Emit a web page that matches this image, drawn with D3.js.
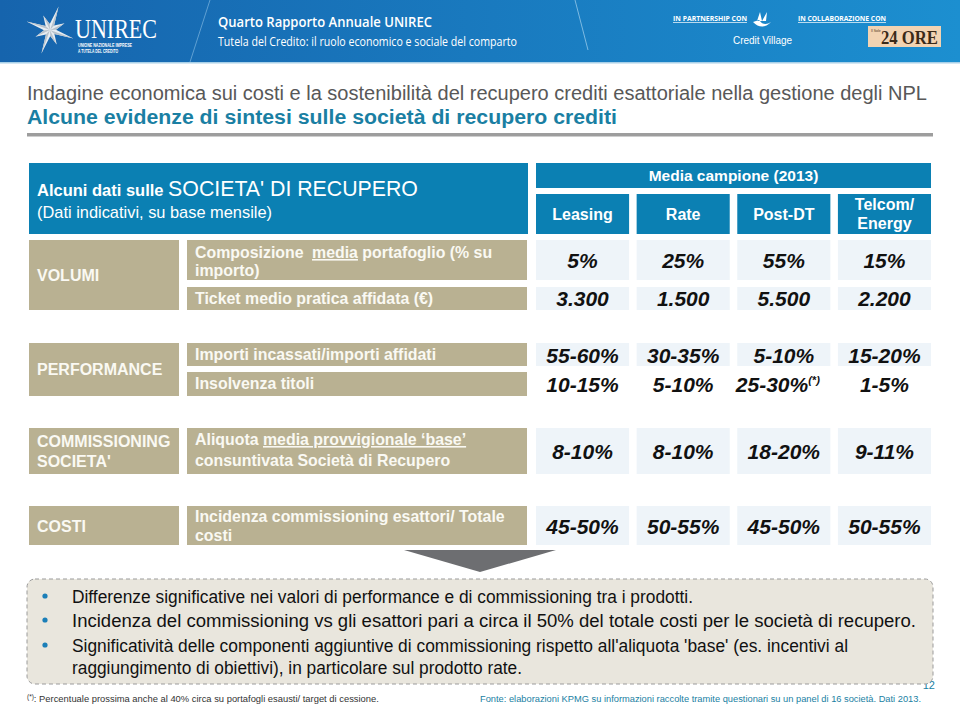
<!DOCTYPE html>
<html><head><meta charset="utf-8">
<script src="https://cdn.jsdelivr.net/npm/d3@7"></script>
<style>body{margin:0;background:#fff}svg{display:block}</style>
</head><body><svg id="c" width="960" height="707"></svg>
<script>
// ---------- DATA ----------
const columns = ["Leasing", "Rate", "Post-DT", "Telcom/ Energy"];
const headerTitle = "Media campione (2013)";
const categories = ["VOLUMI", "PERFORMANCE", "COMMISSIONING SOCIETA'", "COSTI"];
const composizione = ["5%", "25%", "55%", "15%"];
const ticket = ["3.300", "1.500", "5.500", "2.200"];
const incassati = ["55-60%", "30-35%", "5-10%", "15-20%"];
const insolvenza = ["10-15%", "5-10%", "25-30%", "1-5%"];
const insolvenzaNote = ["", "", "(*)", ""];
const aliquota = ["8-10%", "8-10%", "18-20%", "9-11%"];
const incidenza = ["45-50%", "50-55%", "45-50%", "50-55%"];
const bullets = [
  "Differenze significative nei valori di performance e di commissioning tra i prodotti.",
  "Incidenza del commissioning vs gli esattori pari a circa il 50% del totale costi per le società di recupero.",
  "Significatività delle componenti aggiuntive di commissioning rispetto all'aliquota 'base' (es. incentivi al",
  "raggiungimento di obiettivi), in particolare sul prodotto rate."
];

// ---------- SETUP ----------
const svg = d3.select("#c");
const FONT = "'Liberation Sans', Arial, sans-serif";
const BLUE = "#0b80b3", TAN = "#b9b192", CELL = "#eef4f9", TEAL = "#1a7fa3", LBL = "#faf9f3";

// Header banner
const defs = svg.append("defs");
const gr = defs.append("linearGradient").attr("id", "hg");
gr.append("stop").attr("offset", "0%").attr("stop-color", "#1664ad");
gr.append("stop").attr("offset", "100%").attr("stop-color", "#1c8fd0");
svg.append("rect").attr("x", 0).attr("y", 0).attr("width", 960).attr("height", 62).attr("fill", "url(#hg)");
svg.append("rect").attr("x", 0).attr("y", 62).attr("width", 960).attr("height", 1.5).attr("fill", "#a8d0e8");
svg.append("line").attr("x1", 210).attr("y1", 0).attr("x2", 190).attr("y2", 62).attr("stroke", "#7fb6e0").attr("stroke-width", 1).attr("opacity", 0.7);
svg.append("line").attr("x1", 575).attr("y1", 0).attr("x2", 588).attr("y2", 50).attr("stroke", "#a8d4f0").attr("stroke-width", 1).attr("opacity", 0.7);

// Star logo
(function () {
  const cx = 50, cy = 30;
  const pts = [];
  for (let i = 0; i < 16; i++) {
    const a = -Math.PI / 2 + i * Math.PI / 8 + 0.35;
    const r = i % 2 === 1 ? 6 : (i % 4 === 0 ? 25 : 16);
    pts.push([cx + r * Math.cos(a), cy + r * Math.sin(a)]);
  }
  svg.append("polygon").attr("points", pts.map(p => p.join(",")).join(" ")).attr("fill", "#e8edf2");
  for (let i = 0; i < 16; i += 2) {
    const a = -Math.PI / 2 + i * Math.PI / 8 + 0.35;
    const r = i % 4 === 0 ? 25 : 16;
    const a2 = a + Math.PI / 8;
    svg.append("polygon").attr("points", [[cx, cy], [cx + r * Math.cos(a), cy + r * Math.sin(a)], [cx + 6 * Math.cos(a2), cy + 6 * Math.sin(a2)]].map(p => p.join(",")).join(" ")).attr("fill", "#b9c3cc");
  }
})();
svg.append("text").attr("x", 75).attr("y", 38).attr("font-family", "'Liberation Serif', serif").attr("font-size", 27).attr("fill", "#fff").attr("textLength", 82).attr("lengthAdjust", "spacingAndGlyphs").text("UNIREC");
svg.append("text").attr("x", 78).attr("y", 47).attr("font-family", FONT).attr("font-size", 4.6).attr("fill", "#fff").attr("font-weight", "bold").attr("textLength", 54).attr("lengthAdjust", "spacingAndGlyphs").text("UNIONE NAZIONALE IMPRESE");
svg.append("text").attr("x", 78).attr("y", 53).attr("font-family", FONT).attr("font-size", 4.6).attr("fill", "#fff").attr("font-weight", "bold").attr("textLength", 40).attr("lengthAdjust", "spacingAndGlyphs").text("A TUTELA DEL CREDITO");

svg.append("text").attr("x", 218).attr("y", 27).attr("font-family", "'Open Sans', sans-serif").attr("font-weight", 600).attr("font-size", 15).attr("fill", "#fff").attr("textLength", 214).attr("lengthAdjust", "spacingAndGlyphs").text("Quarto Rapporto Annuale UNIREC");
svg.append("text").attr("x", 218).attr("y", 46).attr("font-family", "'Open Sans', sans-serif").attr("font-size", 12.5).attr("fill", "#fff").attr("textLength", 299).attr("lengthAdjust", "spacingAndGlyphs").text("Tutela del Credito: il ruolo economico e sociale del comparto");

// Partner logos
const tiny = (x, y, t, w) => svg.append("text").attr("x", x).attr("y", y).attr("font-family", "'Open Sans', sans-serif").attr("font-weight", 700).attr("font-size", 7).attr("fill", "#fff").attr("textLength", w).attr("lengthAdjust", "spacingAndGlyphs").style("text-decoration", "underline").text(t);
tiny(673, 21, "IN PARTNERSHIP CON", 74);
tiny(798, 21, "IN COLLABORAZIONE CON", 88);
svg.append("path").attr("d", "M753,22 Q762,31 771,22 Q764,27 759,20 Z M757,21 L760,12 L762,21 Z M762,21 L767,12 L766,21 Z").attr("fill", "#fff");
svg.append("text").attr("x", 733).attr("y", 44).attr("font-family", FONT).attr("font-size", 11).attr("fill", "#fff").attr("textLength", 59).attr("lengthAdjust", "spacingAndGlyphs").text("Credit Village");
svg.append("rect").attr("x", 868).attr("y", 26).attr("width", 73).attr("height", 21).attr("fill", "#f2d3b2");
svg.append("text").attr("x", 871).attr("y", 32).attr("font-family", FONT).attr("font-size", 3.5).attr("fill", "#4a3520").text("Il Sole");
svg.append("text").attr("x", 881).attr("y", 44).attr("font-family", "'Liberation Serif', serif").attr("font-weight", "bold").attr("font-size", 19).attr("fill", "#3b2a18").attr("textLength", 57).attr("lengthAdjust", "spacingAndGlyphs").text("24 ORE");

// Titles
svg.append("text").attr("x", 27).attr("y", 100).attr("font-family", FONT).attr("font-size", 19.5).attr("fill", "#585858").attr("textLength", 900).attr("lengthAdjust", "spacingAndGlyphs").text("Indagine economica sui costi e la sostenibilità del recupero crediti esattoriale nella gestione degli NPL");
svg.append("text").attr("x", 27).attr("y", 124).attr("font-family", FONT).attr("font-weight", "bold").attr("font-size", 19.5).attr("fill", TEAL).attr("textLength", 590).attr("lengthAdjust", "spacingAndGlyphs").text("Alcune evidenze di sintesi sulle società di recupero crediti");
svg.append("rect").attr("x", 27).attr("y", 133).attr("width", 906).attr("height", 3.5).attr("fill", "#9d9d9d");

// ---------- TABLE ----------
const x = d3.scaleBand().domain(columns).range([536, 931]).paddingInner(0.075);

// left header
svg.append("rect").attr("x", 29).attr("y", 163).attr("width", 499).attr("height", 71).attr("fill", BLUE);
const lh = svg.append("text").attr("x", 37).attr("y", 196).attr("font-family", FONT).attr("fill", "#fff");
lh.append("tspan").attr("font-weight", "bold").attr("font-size", 16.5).text("Alcuni dati sulle ");
lh.append("tspan").attr("font-size", 21.3).text("SOCIETA' DI RECUPERO");
svg.append("text").attr("x", 37).attr("y", 218).attr("font-family", FONT).attr("font-size", 16.4).attr("fill", "#fff").text("(Dati indicativi, su base mensile)");

// right header
svg.append("rect").attr("x", x.range()[0]).attr("y", 163).attr("width", x.range()[1] - x.range()[0]).attr("height", 25).attr("fill", BLUE);
svg.append("text").attr("x", (x.range()[0] + x.range()[1]) / 2).attr("y", 181).attr("text-anchor", "middle").attr("font-family", FONT).attr("font-weight", "bold").attr("font-size", 15.5).attr("fill", "#fff").text(headerTitle);
const colG = svg.selectAll("g.col").data(columns).join("g").attr("class", "col");
colG.append("rect").attr("x", d => x(d)).attr("y", 194).attr("width", x.bandwidth()).attr("height", 40).attr("fill", BLUE);
colG.each(function (d) {
  const parts = d.split(" ");
  const g = d3.select(this);
  const y0 = parts.length === 1 ? 220 : 210;
  parts.forEach((p, i) => g.append("text").attr("x", x(d) + x.bandwidth() / 2).attr("y", y0 + i * 19).attr("text-anchor", "middle")
    .attr("font-family", FONT).attr("font-weight", "bold").attr("font-size", 16).attr("fill", "#fff").text(p));
});

// groups layout
const groups = [
  { cat: categories[0], y0: 240, y1: 310, catY: [281],
    rows: [
      { y0: 240, y1: 280, label: [["Composizione ", ""], ["media", "u", 4], [" portafoglio (% su", ""]], label2: "importo)", ly: [258, 276], vals: composizione, vy: 268, bg: true },
      { y0: 287, y1: 310, label: [["Ticket medio pratica affidata (€)", ""]], ly: [304], vals: ticket, vy: 306, bg: true }
    ] },
  { cat: categories[1], y0: 343, y1: 396, catY: [375],
    rows: [
      { y0: 343, y1: 366, label: [["Importi incassati/importi affidati", ""]], ly: [360], vals: incassati, vy: 363, bg: true },
      { y0: 372, y1: 396, label: [["Insolvenza titoli", ""]], ly: [389], vals: insolvenza, notes: insolvenzaNote, vy: 392, bg: false }
    ] },
  { cat: categories[2], y0: 428, y1: 474, catY: [447, 467],
    rows: [
      { y0: 428, y1: 474, label: [["Aliquota ", ""], ["media provvigionale ‘base’", "u"]], label2: "consuntivata Società di Recupero", ly: [445, 466], vals: aliquota, vy: 459, bg: true }
    ] },
  { cat: categories[3], y0: 506, y1: 545, catY: [532],
    rows: [
      { y0: 506, y1: 545, label: [["Incidenza commissioning esattori/ Totale", ""]], label2: "costi", ly: [522, 541], vals: incidenza, vy: 534, bg: true }
    ] }
];

groups.forEach(g => {
  svg.append("rect").attr("x", 29).attr("y", g.y0).attr("width", 150).attr("height", g.y1 - g.y0).attr("fill", TAN);
  const catParts = g.catY.length > 1 ? g.cat.split(" ") : [g.cat];
  catParts.forEach((p, i) => svg.append("text").attr("x", 37).attr("y", g.catY[i]).attr("font-family", FONT).attr("font-weight", "bold").attr("font-size", 16).attr("fill", LBL).text(p));
  g.rows.forEach(r => {
    svg.append("rect").attr("x", 187).attr("y", r.y0).attr("width", 340).attr("height", r.y1 - r.y0).attr("fill", TAN);
    const t = svg.append("text").attr("x", 195).attr("y", r.ly[0]).attr("font-family", FONT).attr("font-weight", "bold").attr("font-size", 15.9).attr("fill", LBL);
    r.label.forEach(([s, u, dx]) => {
      const ts = t.append("tspan").text(s);
      if (dx) ts.attr("dx", dx);
      if (u === "u") ts.style("text-decoration", "underline");
    });
    if (r.label2) svg.append("text").attr("x", 195).attr("y", r.ly[1]).attr("font-family", FONT).attr("font-weight", "bold").attr("font-size", 15.9).attr("fill", LBL).text(r.label2);
    if (r.bg) svg.selectAll(null).data(columns).join("rect").attr("x", d => x(d)).attr("y", r.y0).attr("width", x.bandwidth()).attr("height", r.y1 - r.y0).attr("fill", CELL);
    svg.selectAll(null).data(columns).join("text")
      .attr("x", d => x(d) + x.bandwidth() / 2 - (r.notes && r.notes[columns.indexOf(d)] ? 6 : 0))
      .attr("y", r.vy).attr("text-anchor", "middle")
      .attr("font-family", FONT).attr("font-weight", "bold").attr("font-style", "italic").attr("font-size", 21).attr("fill", "#111")
      .each(function (d, i) {
        const el = d3.select(this);
        el.append("tspan").text(r.vals[i]);
        if (r.notes && r.notes[i]) el.append("tspan").attr("font-size", 11).attr("dy", -8).text(r.notes[i]);
      });
  });
});

// arrow
svg.append("path").attr("d", "M404,550 L556,550 L480,572 Z").attr("fill", "#6d6e71");

// page number (partly hidden by box)
svg.append("text").attr("x", 935).attr("y", 689).attr("text-anchor", "end").attr("font-family", FONT).attr("font-size", 11).attr("fill", TEAL).text("12");

// summary box
svg.append("rect").attr("x", 27).attr("y", 579).attr("width", 906).attr("height", 105).attr("rx", 8)
  .attr("fill", "#e9e6dd").attr("stroke", "#9b9b9b").attr("stroke-width", 1).attr("stroke-dasharray", "4,3");

const bulletY = [603, 627, 652, 674];
const bulletW = [621, 844, 776, 450];
bullets.forEach((b, i) => {
  if (i < 3) svg.append("circle").attr("cx", 45).attr("cy", bulletY[i] - 7).attr("r", 2.6).attr("fill", "#1b7fb8");
  svg.append("text").attr("x", 72).attr("y", bulletY[i]).attr("font-family", FONT).attr("font-size", 17.5).attr("fill", "#111")
    .attr("textLength", bulletW[i]).attr("lengthAdjust", "spacingAndGlyphs").text(b);
});

// footnotes
const fn = svg.append("text").attr("x", 27).attr("y", 702).attr("font-family", FONT).attr("font-size", 9.4).attr("fill", "#333");
fn.append("tspan").attr("font-size", 6.5).attr("dy", -3).text("(*)");
fn.append("tspan").attr("dy", 3).text(": Percentuale prossima anche al 40% circa su portafogli esausti/ target di cessione.");
svg.append("text").attr("x", 480).attr("y", 702).attr("font-family", FONT).attr("font-size", 9.6).attr("fill", TEAL)
  .attr("textLength", 441).attr("lengthAdjust", "spacingAndGlyphs")
  .text("Fonte: elaborazioni KPMG su informazioni raccolte tramite questionari su un panel di 16 società. Dati 2013.");
</script></body></html>
